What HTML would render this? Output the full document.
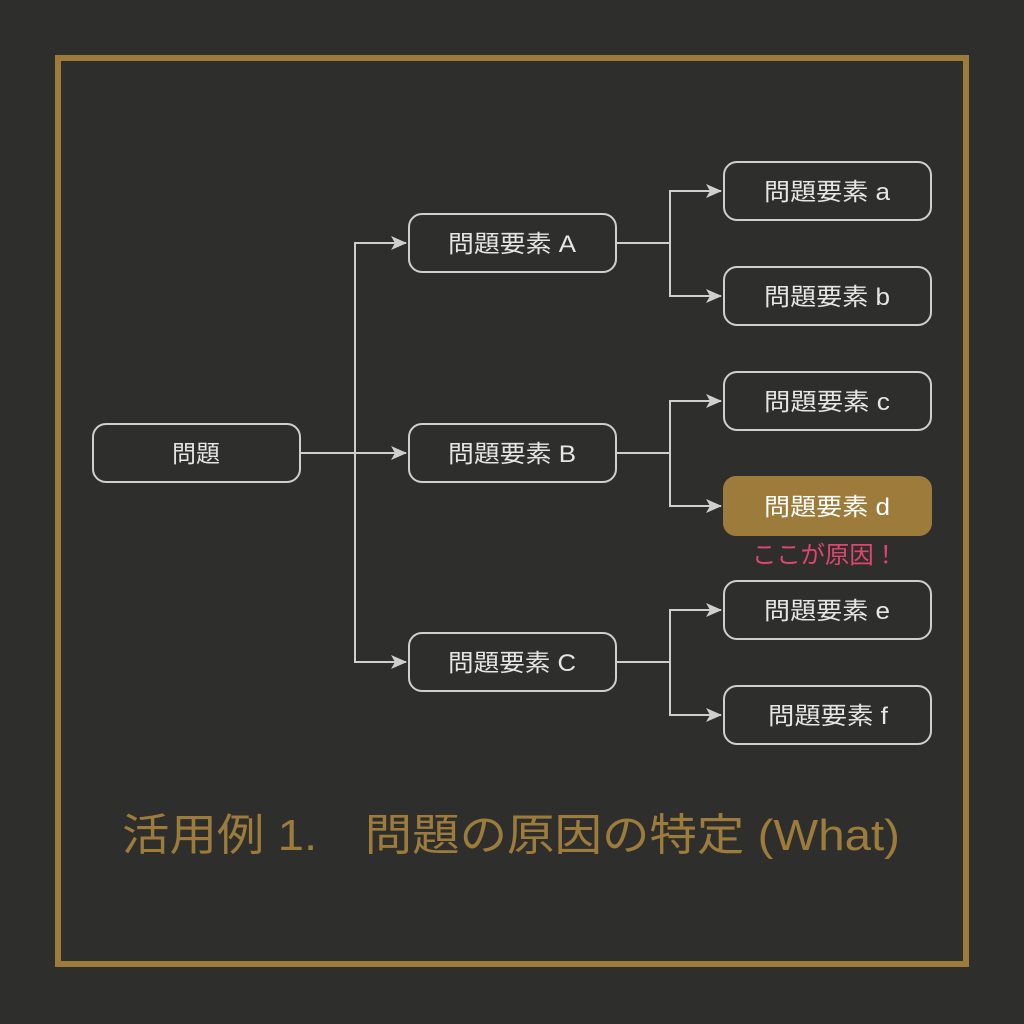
<!DOCTYPE html>
<html><head><meta charset="utf-8"><style>
body{margin:0;width:1024px;height:1024px;background:#2e2f2d;overflow:hidden}
svg{display:block}
text{font-family:"Liberation Sans","Noto Sans CJK JP",sans-serif}
</style></head><body>
<svg width="1024" height="1024" viewBox="0 0 1024 1024">
<rect x="0" y="0" width="1024" height="1024" fill="#2e2f2d"/>
<rect x="58" y="58" width="908" height="906" fill="none" stroke="#9c7b3b" stroke-width="6"/>
<defs><marker id="a" markerWidth="16" markerHeight="16" refX="15" refY="8" orient="auto" markerUnits="userSpaceOnUse"><path d="M0,1 L16,8 L0,15 L4,8 Z" fill="#cfcfcf"/></marker></defs>
<g stroke="#cfcfcf" stroke-width="2" fill="none">
<path d="M300,453 H406" marker-end="url(#a)"/>
<path d="M355,453 V243 H406" marker-end="url(#a)"/>
<path d="M355,453 V662 H406" marker-end="url(#a)"/>
<path d="M616,243 H670"/><path d="M670,243 V191 H721" marker-end="url(#a)"/><path d="M670,243 V296 H721" marker-end="url(#a)"/>
<path d="M616,453 H670"/><path d="M670,453 V401 H721" marker-end="url(#a)"/><path d="M670,453 V506 H721" marker-end="url(#a)"/>
<path d="M616,662 H670"/><path d="M670,662 V610 H721" marker-end="url(#a)"/><path d="M670,662 V715 H721" marker-end="url(#a)"/>
<rect x="93" y="424" width="207" height="58" rx="13"/>
<rect x="409" y="214" width="207" height="58" rx="13"/>
<rect x="409" y="424" width="207" height="58" rx="13"/>
<rect x="409" y="633" width="207" height="58" rx="13"/>
<rect x="724" y="162" width="207" height="58" rx="13"/>
<rect x="724" y="267" width="207" height="58" rx="13"/>
<rect x="724" y="372" width="207" height="58" rx="13"/>
<rect x="724" y="581" width="207" height="58" rx="13"/>
<rect x="724" y="686" width="207" height="58" rx="13"/>
</g>
<rect x="723" y="476" width="209" height="60" rx="13" fill="#9c7b3b"/>
<g fill="#e6e6e6" font-size="24" text-anchor="middle">
<text x="196" y="462">問題</text>
<text x="512" y="252" textLength="128" lengthAdjust="spacingAndGlyphs">問題要素 A</text>
<text x="512" y="462" textLength="128" lengthAdjust="spacingAndGlyphs">問題要素 B</text>
<text x="512" y="671" textLength="128" lengthAdjust="spacingAndGlyphs">問題要素 C</text>
<text x="827" y="200" textLength="126" lengthAdjust="spacingAndGlyphs">問題要素 a</text>
<text x="827" y="305" textLength="126" lengthAdjust="spacingAndGlyphs">問題要素 b</text>
<text x="827" y="410" textLength="126" lengthAdjust="spacingAndGlyphs">問題要素 c</text>
<text x="827" y="515" fill="#fff" textLength="126" lengthAdjust="spacingAndGlyphs">問題要素 d</text>
<text x="827" y="619" textLength="126" lengthAdjust="spacingAndGlyphs">問題要素 e</text>
<text x="828" y="724" textLength="120" lengthAdjust="spacingAndGlyphs">問題要素 f</text>
</g>
<text x="825" y="563" font-size="24" fill="#e0456e" text-anchor="middle" textLength="146" lengthAdjust="spacingAndGlyphs">ここが原因！</text>
<text x="511" y="850" font-size="44" fill="#9c7b3b" text-anchor="middle" textLength="778" lengthAdjust="spacingAndGlyphs">活用例 1.　問題の原因の特定 (What)</text>
</svg>
</body></html>
